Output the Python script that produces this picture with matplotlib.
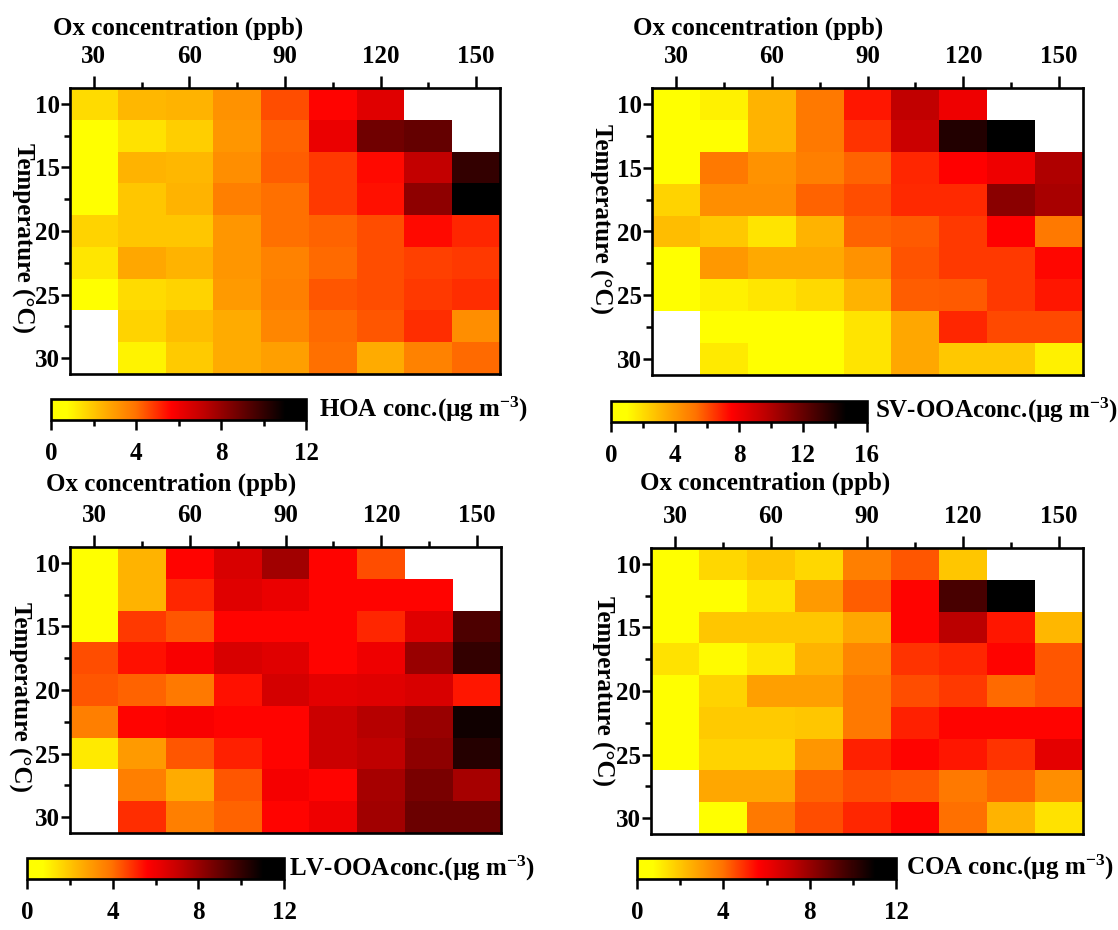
import numpy as np
import matplotlib
matplotlib.use("Agg")
import matplotlib.pyplot as plt
from matplotlib.colors import LinearSegmentedColormap

nan = np.nan

# ---------------- data ----------------
ox_centers = [30, 45, 60, 75, 90, 105, 120, 135, 150]          # ppb
temp_centers = [10, 12.5, 15, 17.5, 20, 22.5, 25, 27.5, 30]    # deg C
ox_ticks = [30, 60, 90, 120, 150]
temp_ticks = [10, 15, 20, 25, 30]

hoa = [
    [1.5, 2.3, 2.4, 3.2, 4.5, 5.6, 6.4, nan, nan],
    [0.4, 1.4, 1.8, 3.1, 4.2, 6.1, 8.8, 9.0, nan],
    [0.4, 2.4, 2.3, 3.3, 4.3, 4.8, 5.5, 7.1, 10.0],
    [0.4, 2.0, 2.4, 3.7, 4.0, 4.8, 5.4, 8.2, 11.8],
    [1.7, 2.0, 2.0, 3.1, 4.0, 4.2, 4.5, 5.5, 5.1],
    [1.3, 2.7, 2.4, 3.1, 3.6, 4.1, 4.5, 4.7, 4.8],
    [0.6, 1.5, 1.7, 3.0, 3.7, 4.4, 4.5, 4.8, 5.0],
    [nan, 1.7, 2.2, 2.6, 3.5, 4.1, 4.4, 5.0, 3.3],
    [nan, 1.0, 1.9, 2.6, 2.9, 4.0, 2.6, 3.6, 4.1],
]

sv_ooa = [
    [0.5, 1.4, 3.2, 5.1, 7.1, 9.5, 8.0, nan, nan],
    [0.5, 0.8, 3.2, 5.1, 6.5, 9.2, 13.8, 16.0, nan],
    [0.5, 5.1, 4.3, 4.9, 5.6, 6.8, 7.5, 8.0, 10.0],
    [2.3, 4.4, 4.4, 5.6, 6.0, 6.7, 6.7, 11.0, 10.2],
    [2.9, 2.6, 1.8, 3.2, 5.6, 5.8, 6.4, 7.5, 5.1],
    [0.5, 4.1, 3.5, 3.5, 4.3, 5.9, 6.4, 6.4, 7.4],
    [0.5, 1.4, 1.7, 2.1, 3.2, 5.7, 5.8, 6.4, 7.1],
    [nan, 0.8, 0.5, 0.5, 1.8, 3.6, 6.8, 6.1, 6.1],
    [nan, 1.6, 0.5, 0.5, 1.8, 3.6, 2.6, 2.6, 1.4],
]

lv_ooa = [
    [0.4, 2.4, 5.6, 6.6, 7.8, 5.6, 4.5, nan, nan],
    [0.4, 2.4, 5.1, 6.4, 6.1, 5.6, 5.6, 5.6, nan],
    [0.4, 4.8, 4.4, 5.6, 5.6, 5.6, 5.1, 6.4, 9.5],
    [4.5, 5.4, 5.8, 6.6, 6.4, 5.6, 6.0, 8.0, 10.0],
    [4.4, 4.2, 3.8, 5.4, 6.7, 6.3, 6.4, 6.6, 5.3],
    [3.7, 5.6, 5.8, 5.6, 5.6, 6.9, 7.4, 8.0, 10.7],
    [1.2, 3.0, 4.4, 5.2, 5.6, 6.9, 7.2, 8.2, 10.3],
    [nan, 3.7, 2.6, 4.4, 5.9, 5.6, 7.7, 8.6, 7.7],
    [nan, 5.0, 3.7, 4.2, 5.6, 6.0, 7.8, 8.9, 8.9],
]

coa = [
    [0.4, 1.6, 2.0, 1.6, 3.7, 4.4, 2.0, nan, nan],
    [0.4, 0.6, 1.4, 3.0, 4.3, 5.6, 9.6, 12.0, nan],
    [0.4, 2.0, 2.0, 2.0, 2.7, 5.6, 7.3, 5.3, 2.3],
    [1.4, 0.8, 1.3, 2.4, 3.5, 4.9, 5.1, 5.6, 4.4],
    [0.4, 1.7, 2.9, 2.9, 3.8, 4.5, 4.8, 4.1, 4.4],
    [0.4, 1.9, 1.9, 2.0, 3.8, 5.2, 5.6, 5.6, 5.6],
    [0.4, 1.7, 1.7, 3.1, 5.2, 5.6, 5.3, 4.9, 6.3],
    [nan, 2.7, 2.7, 4.2, 4.5, 4.4, 3.8, 4.2, 3.3],
    [nan, 0.6, 3.8, 4.5, 5.1, 5.6, 4.0, 2.4, 1.4],
]

panels = [
    dict(data=hoa, vmax=12, cticks=[0, 4, 8, 12], cminor=[2, 6, 10],
         label="HOA conc.(µg m$^{-3}$)"),
    dict(data=sv_ooa, vmax=16, cticks=[0, 4, 8, 12, 16], cminor=[2, 6, 10, 14],
         label="SV-OOAconc.(µg m$^{-3}$)"),
    dict(data=lv_ooa, vmax=12, cticks=[0, 4, 8, 12], cminor=[2, 6, 10],
         label="LV-OOAconc.(µg m$^{-3}$)"),
    dict(data=coa, vmax=12, cticks=[0, 4, 8, 12], cminor=[2, 6, 10],
         label="COA conc.(µg m$^{-3}$)"),
]

# ---------------- layout (pixels) ----------------
W, H = 1118, 930
axes_px = [(70, 88, 500, 374), (652, 88, 1083, 375),
           (70, 547, 501, 833), (651, 548, 1083, 834)]
cbar_px = [(51, 399, 306, 420), (611, 401, 867, 422),
           (27, 858, 284, 879), (637, 858, 896, 879)]
xlabel_px = [(178, 28), (758, 28), (171, 484), (765, 483)]
ylabel_px = [(23, 238), (601, 219), (20, 697), (603, 691)]
clabel_px = [(319, 409), (875, 410), (289, 868), (906, 867)]

plt.rcParams['font.family'] = ['Liberation Serif', 'DejaVu Serif']
plt.rcParams['font.weight'] = 'bold'
plt.rcParams['font.size'] = 18
plt.rcParams['mathtext.fontset'] = 'custom'
plt.rcParams['mathtext.rm'] = 'Liberation Serif:bold'
plt.rcParams['mathtext.bf'] = 'Liberation Serif:bold'
plt.rcParams['mathtext.it'] = 'Liberation Serif:bold'
plt.rcParams['mathtext.default'] = 'rm'

cmap = LinearSegmentedColormap.from_list('fire', [
    (0.00, (1.0, 1.0, 0.0)),
    (0.06, (1.0, 1.0, 0.0)),
    (0.20, (1.0, 0.70, 0.0)),
    (0.33, (1.0, 0.45, 0.0)),
    (0.47, (1.0, 0.0, 0.0)),
    (0.60, (0.75, 0.0, 0.0)),
    (0.75, (0.40, 0.0, 0.0)),
    (0.92, (0.0, 0.0, 0.0)),
    (1.00, (0.0, 0.0, 0.0)),
])
cmap.set_bad('white')


def rect(l, t, r, b):
    return [l / W, 1 - b / H, (r - l) / W, (b - t) / H]


fig = plt.figure(figsize=(W / 100, H / 100), dpi=100)

oc = np.array(ox_centers, dtype=float)
tc = np.array(temp_centers, dtype=float)
dx = oc[1] - oc[0]
dy = tc[1] - tc[0]
x_edges = np.append(oc - dx / 2, oc[-1] + dx / 2)
y_edges = np.append(tc - dy / 2, tc[-1] + dy / 2)

for i, p in enumerate(panels):
    ax = fig.add_axes(rect(*axes_px[i]))
    arr = np.ma.masked_invalid(np.array(p['data'], dtype=float))
    mesh = ax.pcolormesh(x_edges, y_edges, arr, cmap=cmap, vmin=0, vmax=p['vmax'],
                         shading='flat', antialiased=False, edgecolors='none')
    ax.set_xlim(x_edges[0], x_edges[-1])
    ax.set_ylim(y_edges[-1], y_edges[0])
    ax.xaxis.tick_top()
    ax.set_xticks(ox_ticks)
    ax.set_xticks(oc[1::2], minor=True)
    ax.set_yticks(temp_ticks)
    ax.set_yticks(tc[1::2], minor=True)
    ax.tick_params(axis='x', which='major', direction='out', length=9, width=1.8,
                   pad=5.5, labelsize=18, top=True, bottom=False)
    ax.tick_params(axis='x', which='minor', direction='out', length=4.5, width=1.8,
                   top=True, bottom=False)
    ax.tick_params(axis='y', which='major', direction='out', length=6.5, width=1.8,
                   pad=0.5, labelsize=18, left=True, right=False)
    ax.tick_params(axis='y', which='minor', direction='out', length=4, width=1.8,
                   left=True, right=False)
    for s in ax.spines.values():
        s.set_linewidth(1.9)

    # colorbar
    cax = fig.add_axes(rect(*cbar_px[i]))
    cb = fig.colorbar(mesh, cax=cax, orientation='horizontal', ticks=p['cticks'])
    cb.ax.set_xticks(p['cminor'], minor=True)
    cb.outline.set_linewidth(1.9)
    cb.ax.tick_params(which='major', direction='out', length=7.5, width=1.8,
                      pad=8.5, labelsize=18)
    cb.ax.tick_params(which='minor', direction='out', length=4.5, width=1.8)
    cb.ax.set_xticklabels([str(t) for t in p['cticks']])

    fig.text(xlabel_px[i][0] / W, 1 - xlabel_px[i][1] / H, "Ox concentration (ppb)",
             ha='center', va='center', fontsize=18, fontweight='bold')
    fig.text(ylabel_px[i][0] / W, 1 - ylabel_px[i][1] / H, "Temperature (°C)",
             ha='center', va='center', rotation=270, fontsize=18, fontweight='bold')
    fig.text(clabel_px[i][0] / W, 1 - clabel_px[i][1] / H, p['label'],
             ha='left', va='center', fontsize=18, fontweight='bold')

fig.savefig("out.png", dpi=100)
